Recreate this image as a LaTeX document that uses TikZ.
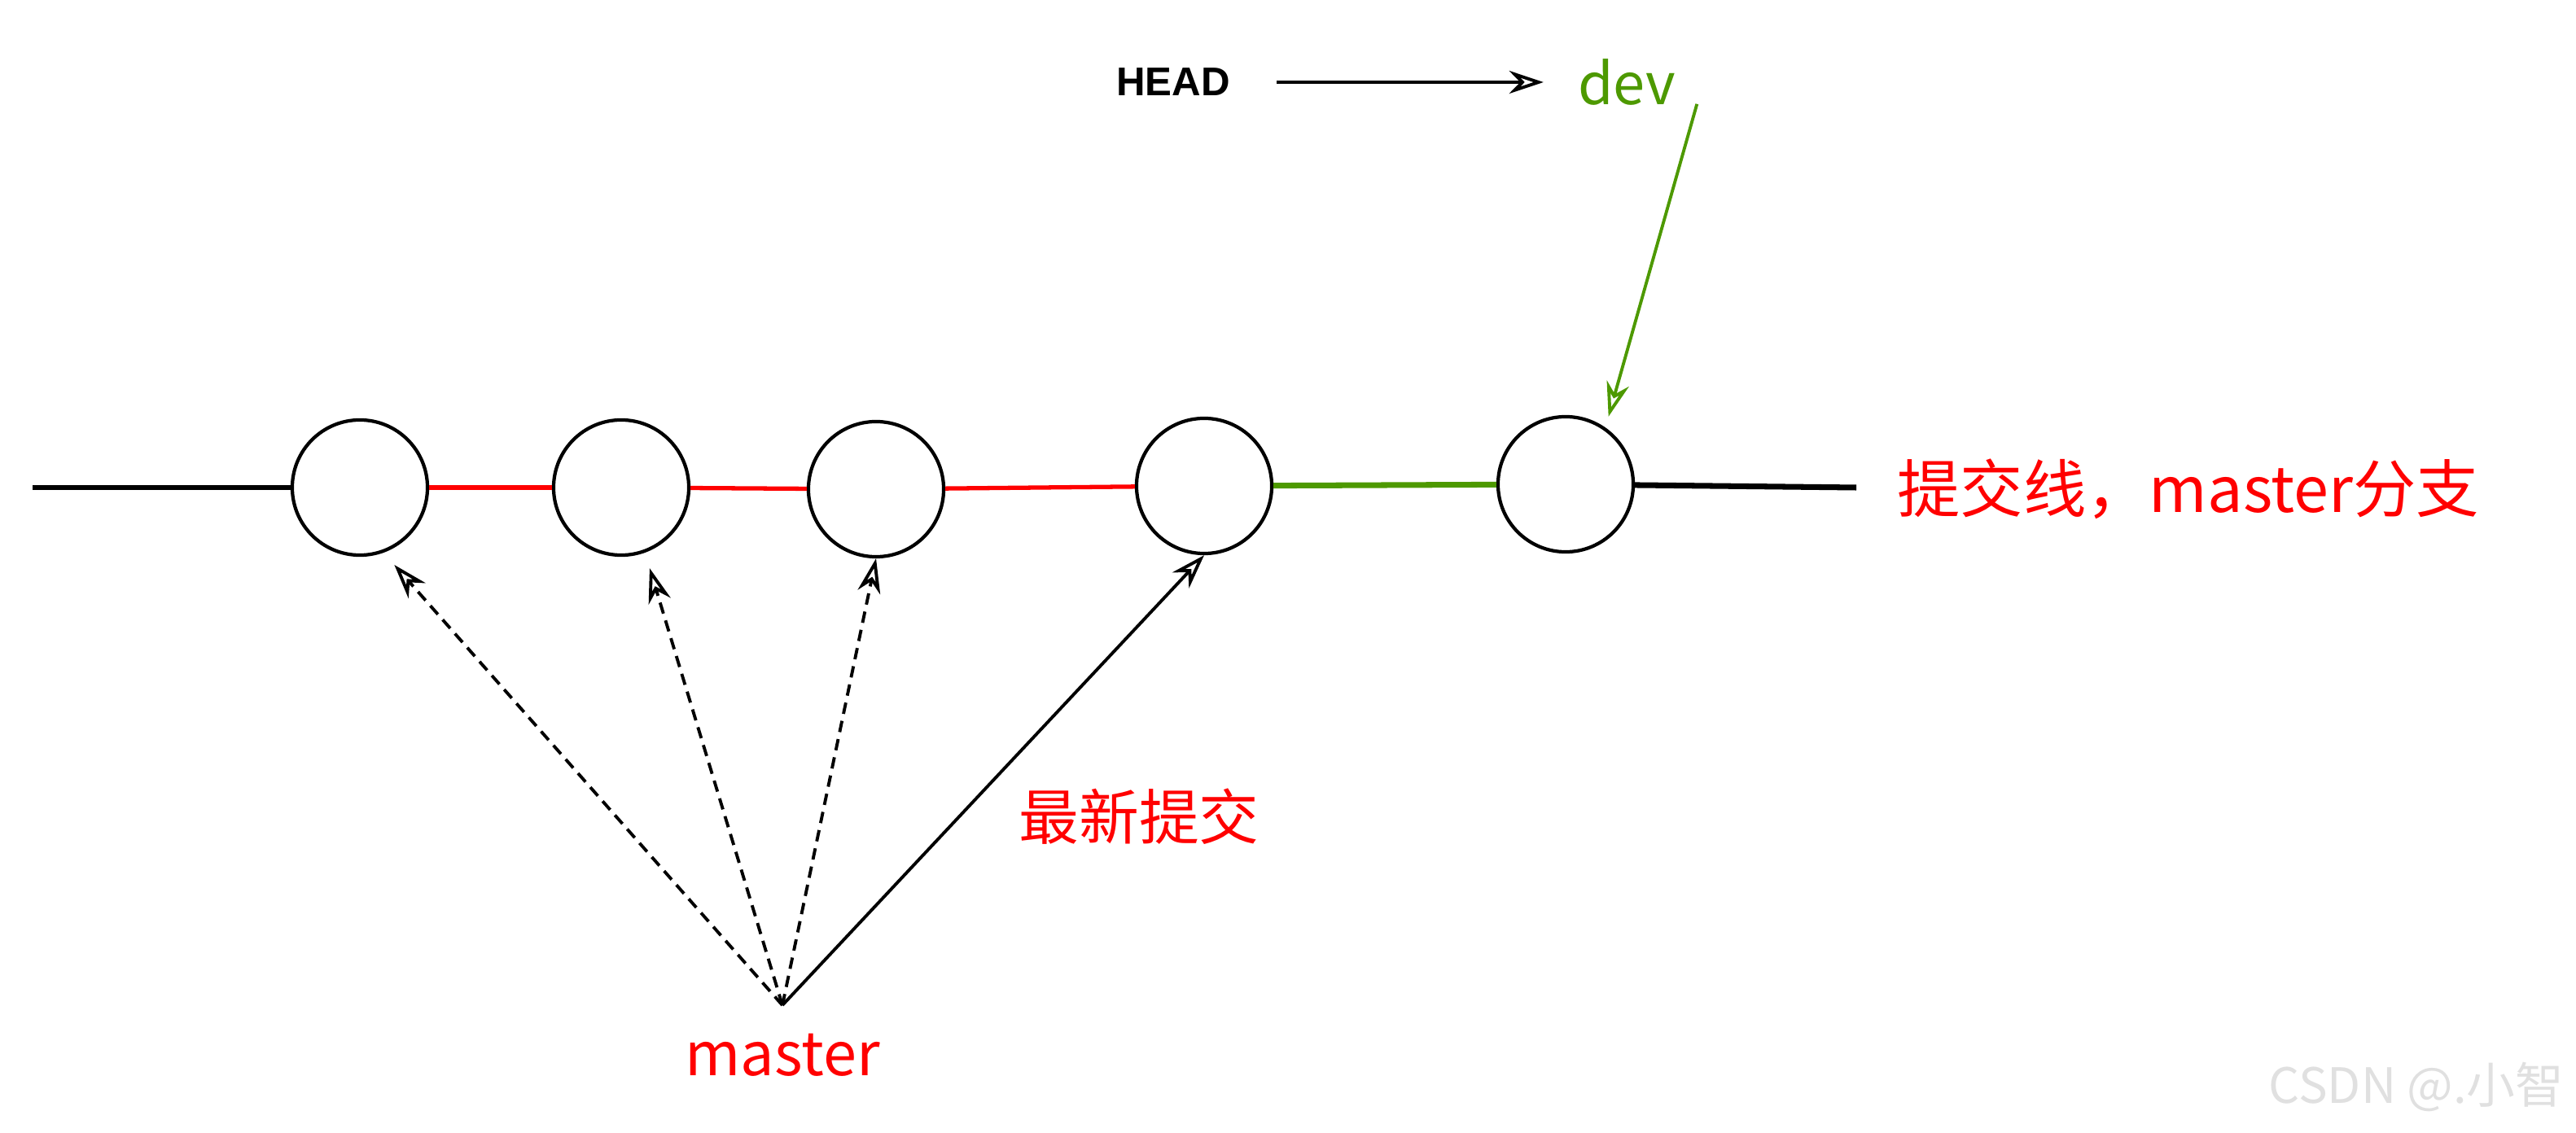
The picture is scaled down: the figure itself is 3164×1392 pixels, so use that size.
\documentclass[tikz,border=0pt]{standalone}
\usepackage{fontspec}
\setmainfont{Liberation Sans}
\newfontfamily\cjk{Noto Sans CJK SC}
\usetikzlibrary{arrows.meta,positioning}

\definecolor{gitred}{RGB}{255,0,0}
\definecolor{gitgreen}{RGB}{77,153,0}
\definecolor{wmgray}{RGB}{224,224,224}

\tikzset{
  commit/.style={circle,draw,line width=1.2pt,minimum size=1.66cm,inner sep=0pt},
  ptr/.style={-{Stealth[open,length=12pt,width=8pt]},line width=1.1pt},
  oldptr/.style={ptr,dash pattern=on 4pt off 2.5pt},
  redtext/.style={text=gitred,font=\cjk\fontsize{21pt}{25pt}\selectfont},
  branchline/.style={line width=1.5pt}
}

\begin{document}
\begin{tikzpicture}[x=0.01cm,y=-0.01cm]
\useasboundingbox (0,0) rectangle (3164,1392);

\node[font=\bfseries\fontsize{14pt}{16pt}\selectfont] (head) at (1441,101) {HEAD};
\node[text=gitgreen,font=\cjk\fontsize{20pt}{24pt}\selectfont] (dev) at (1998,101) {dev};

\foreach \n/\x/\y in {1/442/599, 2/763/599, 3/1076/601, 4/1479/597, 5/1923/595}
    \node[commit] (c\n) at (\x,\y) {};

\coordinate (lstart) at (40,599);
\coordinate (lend) at (2280,599);
\coordinate (mroot) at (961,1235);

\draw[branchline] (lstart) -- (c1);
\foreach \a/\b in {1/2, 2/3, 3/4}
    \draw[branchline,gitred] (c\a) -- (c\b);
\draw[branchline,line width=2pt,gitgreen] (c4) -- (c5);
\draw[branchline,line width=2pt] (c5) -- (lend);

\node[redtext,font=\cjk\fontsize{22pt}{26pt}\selectfont,anchor=west] (mline) at (2318,601) {提交线，master分支};
\node[redtext] (master) at (961,1296) {master};
\node[redtext] (newest) at (1399,1003) {最新提交};

\draw[ptr,shorten <=0.45cm,shorten >=0.3cm] (head) -- (dev);
\draw[ptr,gitgreen,shorten >=0.14cm] ([xshift=4pt,yshift=4pt]dev.south east) -- (c5.55);

\foreach \t in {c1.-70, c2.-70}
    \draw[oldptr,shorten >=0.2cm] (mroot) -- (\t);
\draw[oldptr] (mroot) -- (c3.south);
\draw[ptr] (mroot) -- (c4.south);

\node[text=wmgray,font=\cjk\fontsize{17pt}{20pt}\selectfont] (wm) at (2968,1335) {CSDN @.小智};

\end{tikzpicture}
\end{document}
